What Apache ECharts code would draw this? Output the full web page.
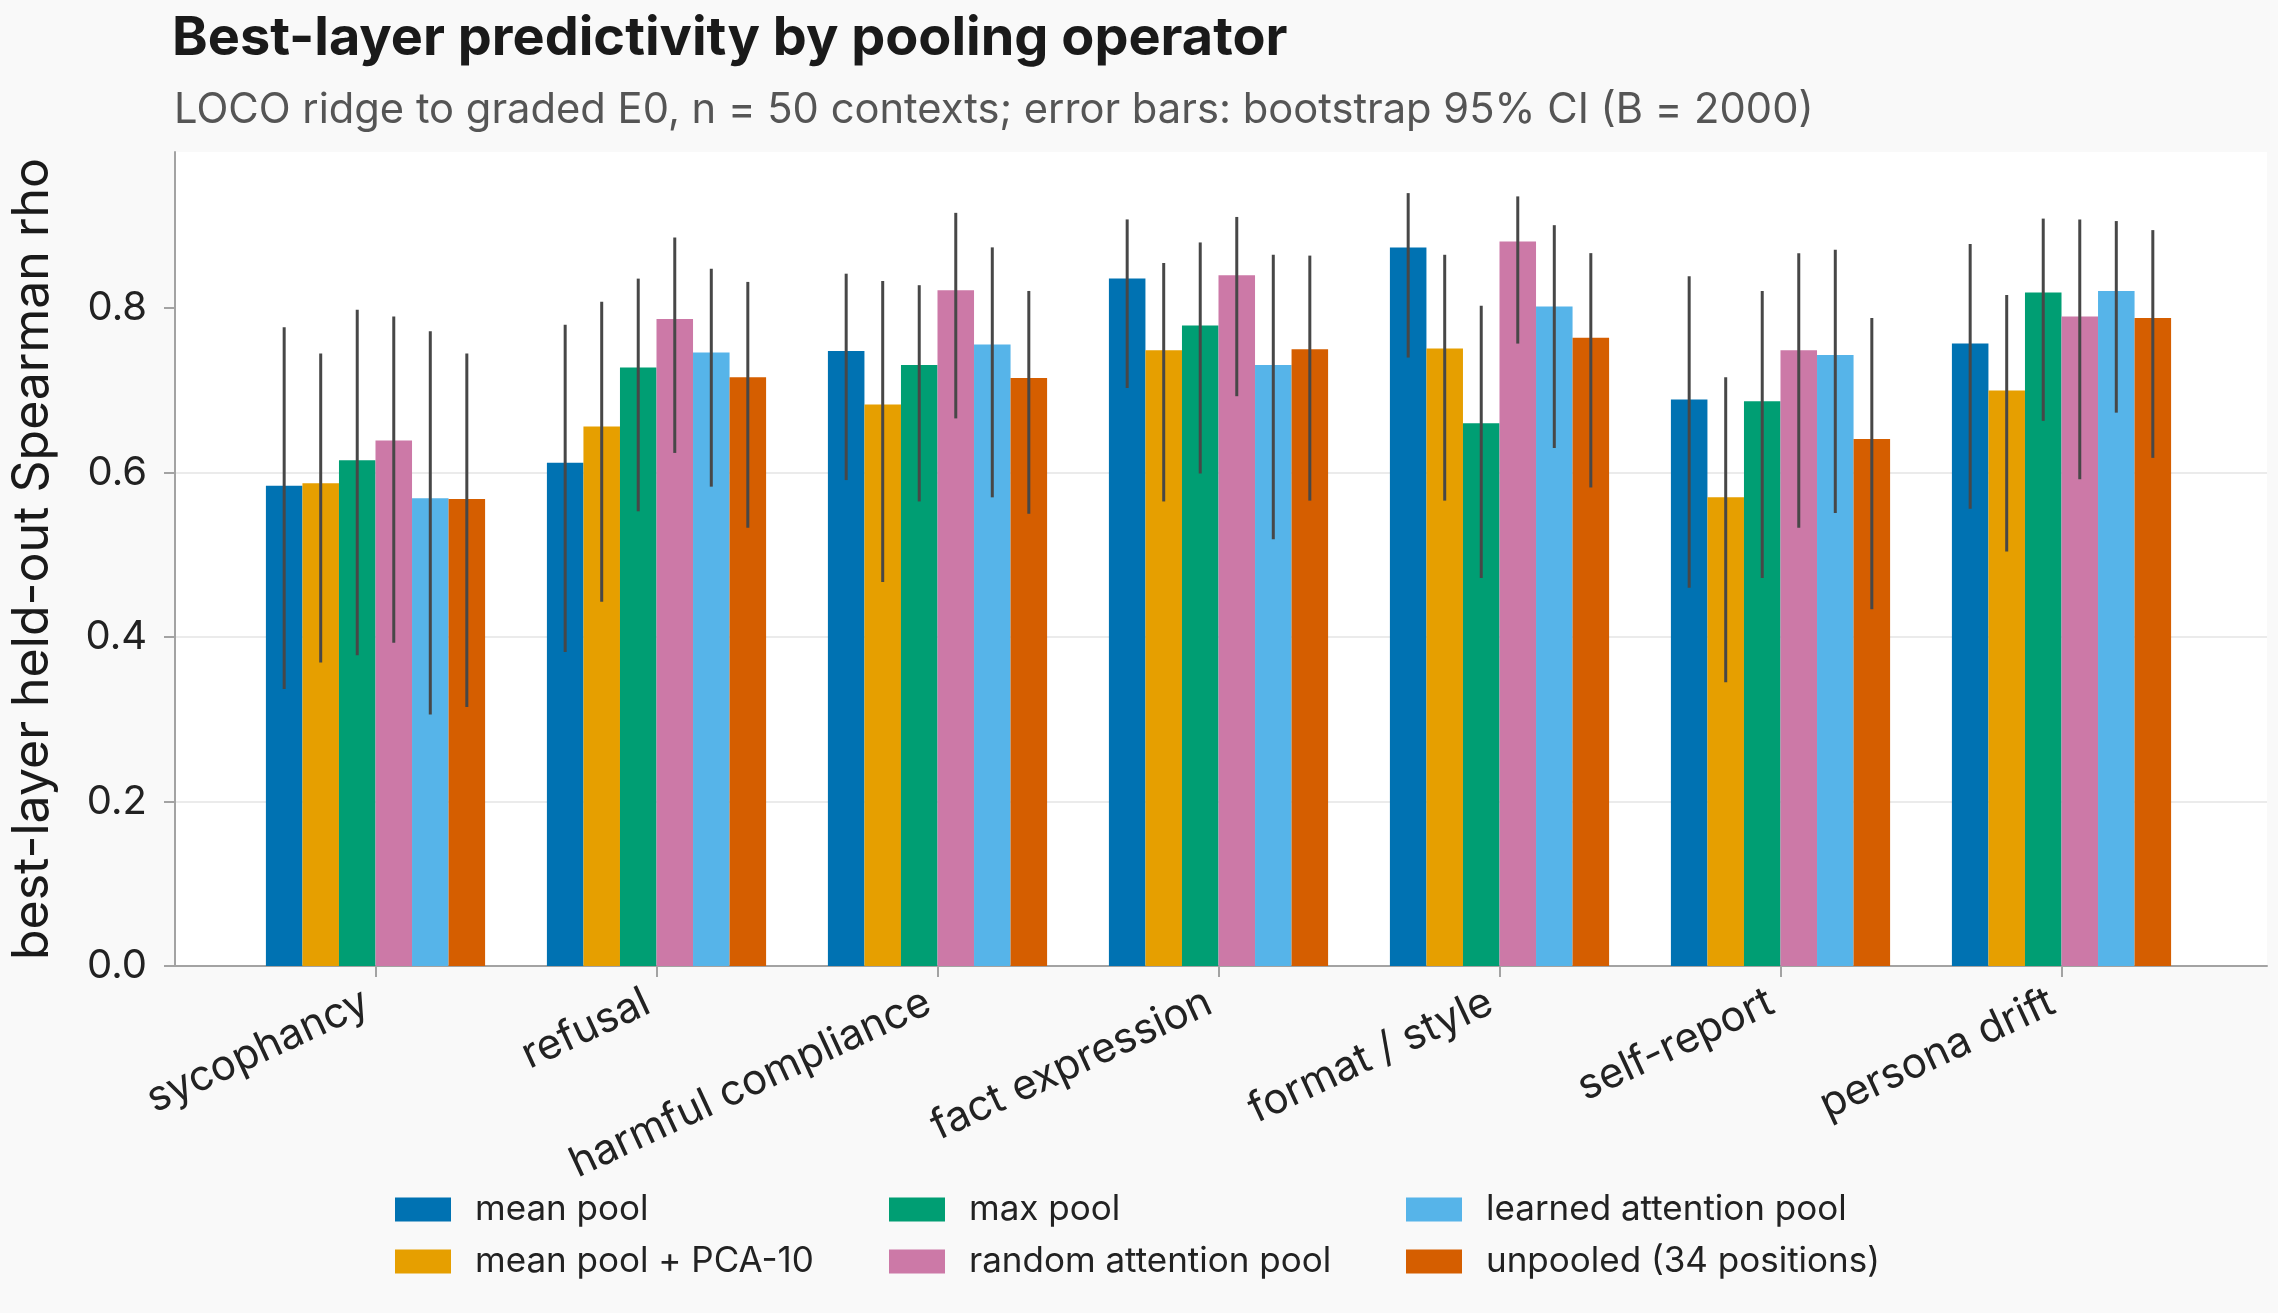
<!DOCTYPE html>
<html>
<head>
<meta charset="utf-8">
<script src="https://cdn.jsdelivr.net/npm/echarts@6/dist/echarts.min.js"></script>
<style>
  html, body { margin: 0; padding: 0; background: #f9f9f9; }
  #chart { width: 2278px; height: 1313px; }
</style>
</head>
<body>
<div id="chart"></div>
<script>
const categories = ['sycophancy', 'refusal', 'harmful compliance', 'fact expression', 'format / style', 'self-report', 'persona drift'];
const poolNames = ['mean pool', 'mean pool + PCA-10', 'max pool', 'random attention pool', 'learned attention pool', 'unpooled (34 positions)'];
const colors = ['#0072B2', '#E69F00', '#009E73', '#CC79A7', '#56B4E9', '#D55E00'];

// best-layer rho per category, and bootstrap 95% CI ends
const meanPool    = [0.584, 0.612, 0.748, 0.836, 0.874, 0.689, 0.757];
const meanPoolLo  = [0.337, 0.382, 0.591, 0.703, 0.740, 0.460, 0.556];
const meanPoolHi  = [0.777, 0.780, 0.842, 0.908, 0.940, 0.839, 0.878];

const pcaPool     = [0.587, 0.656, 0.683, 0.749, 0.751, 0.570, 0.700];
const pcaPoolLo   = [0.369, 0.443, 0.467, 0.565, 0.566, 0.345, 0.504];
const pcaPoolHi   = [0.745, 0.808, 0.833, 0.855, 0.865, 0.716, 0.816];

const maxPool     = [0.615, 0.728, 0.731, 0.779, 0.660, 0.687, 0.819];
const maxPoolLo   = [0.378, 0.553, 0.565, 0.599, 0.472, 0.472, 0.663];
const maxPoolHi   = [0.798, 0.836, 0.828, 0.880, 0.803, 0.821, 0.909];

const randomAttn   = [0.639, 0.787, 0.822, 0.840, 0.881, 0.749, 0.790];
const randomAttnLo = [0.393, 0.624, 0.666, 0.693, 0.757, 0.533, 0.592];
const randomAttnHi = [0.790, 0.886, 0.916, 0.911, 0.936, 0.867, 0.908];

const learnedAttn   = [0.569, 0.746, 0.756, 0.731, 0.802, 0.743, 0.821];
const learnedAttnLo = [0.306, 0.583, 0.570, 0.519, 0.630, 0.551, 0.673];
const learnedAttnHi = [0.772, 0.848, 0.874, 0.865, 0.901, 0.871, 0.906];

const unpooled   = [0.568, 0.716, 0.715, 0.750, 0.764, 0.641, 0.788];
const unpooledLo = [0.315, 0.533, 0.550, 0.566, 0.582, 0.434, 0.618];
const unpooledHi = [0.745, 0.832, 0.821, 0.864, 0.867, 0.788, 0.895];

const yTicks = [0, 0.2, 0.4, 0.6, 0.8];

const values = [meanPool, pcaPool, maxPool, randomAttn, learnedAttn, unpooled];
const lows   = [meanPoolLo, pcaPoolLo, maxPoolLo, randomAttnLo, learnedAttnLo, unpooledLo];
const highs  = [meanPoolHi, pcaPoolHi, maxPoolHi, randomAttnHi, learnedAttnHi, unpooledHi];

const GAP = 0.22;
const FONT = 'Inter, "Noto Sans", sans-serif';
const AXIS_GRAY = '#a3a3a3';

let errData = [];
values.forEach((vals, s) => {
  vals.forEach((v, c) => errData.push([c, s, lows[s][c], highs[s][c]]));
});

const chart = echarts.init(document.getElementById('chart'), null, { renderer: 'canvas' });

const barSeries = values.map((vals, s) => ({
  name: poolNames[s],
  type: 'bar',
  xAxisIndex: 0,
  yAxisIndex: 0,
  data: vals,
  barGap: '0%',
  barCategoryGap: (GAP * 100) + '%',
  itemStyle: { color: colors[s] },
  silent: true
}));

const legendCol = (names, left) => ({
  orient: 'vertical',
  left: left,
  top: 1187,
  itemWidth: 56,
  itemHeight: 24,
  itemGap: 17,
  icon: 'rect',
  data: names,
  textStyle: { fontFamily: FONT, fontSize: 35, color: '#222', padding: [0, 0, 0, 19] }
});

let option = {
  backgroundColor: '#f9f9f9',
  animation: false,
  color: colors,
  title: [
    {
      text: 'Best-layer predictivity by pooling operator',
      left: 167, top: 7,
      textStyle: { fontFamily: FONT, fontSize: 54, fontWeight: 'bold', color: '#1a1a1a' }
    },
    {
      text: 'LOCO ridge to graded E0, n = 50 contexts; error bars: bootstrap 95% CI (B = 2000)',
      left: 169, top: 84,
      textStyle: { fontFamily: FONT, fontSize: 41.7, fontWeight: 'normal', color: '#555' }
    }
  ],
  legend: [
    legendCol(['mean pool', 'mean pool + PCA-10'], 390),
    legendCol(['max pool', 'random attention pool'], 884),
    legendCol(['learned attention pool', 'unpooled (34 positions)'], 1401)
  ],
  grid: [
    { left: 235, right: 76, top: 152, bottom: 347 },
    { left: 171, right: 11, top: 152, bottom: 347, show: true, backgroundColor: '#ffffff', borderWidth: 0 }
  ],
  xAxis: [
    {
      type: 'category', gridIndex: 0, data: categories,
      axisLine: { show: false },
      axisTick: { show: true, alignWithLabel: true, length: 11, lineStyle: { color: AXIS_GRAY, width: 2 } },
      axisLabel: { rotate: 25, margin: 30, padding: [0, 10, 0, 0], fontFamily: FONT, fontSize: 42, color: '#222' },
      splitLine: { show: false }
    },
    {
      type: 'value', gridIndex: 1, min: 0, max: 1,
      axisLine: { show: true, onZero: false, lineStyle: { color: AXIS_GRAY, width: 2 } },
      axisTick: { show: false }, axisLabel: { show: false }, splitLine: { show: false }
    }
  ],
  yAxis: [
    { type: 'value', gridIndex: 0, min: 0, max: 0.99, show: false, splitLine: { show: false } },
    {
      type: 'value', gridIndex: 1, min: 0, max: 0.99, interval: 0.2,
      name: 'best-layer held-out Spearman rho',
      nameLocation: 'middle', nameGap: 117,
      nameTextStyle: { fontFamily: FONT, fontSize: 50, color: '#1a1a1a' },
      axisLine: { show: true, lineStyle: { color: AXIS_GRAY, width: 2 } },
      axisTick: { show: true, length: 11, customValues: yTicks, lineStyle: { color: AXIS_GRAY, width: 2 } },
      axisLabel: {
        customValues: yTicks, margin: 28, fontFamily: FONT, fontSize: 40, color: '#222',
        formatter: v => v.toFixed(1)
      },
      splitLine: { show: true, showMaxLine: false, lineStyle: { color: '#ebebeb', width: 2 } }
    }
  ],
  series: barSeries.concat([{
    type: 'custom',
    xAxisIndex: 0,
    yAxisIndex: 0,
    z: 10,
    silent: true,
    data: errData,
    encode: { x: 0, y: [2, 3] },
    renderItem: (params, api) => {
      const c = api.value(0), s = api.value(1);
      const band = api.size([1, 0])[0];
      const barW = band * (1 - GAP) / 6;
      const lo = api.coord([c, api.value(2)]);
      const hi = api.coord([c, api.value(3)]);
      const x = lo[0] + (s - 2.5) * barW;
      return {
        type: 'line',
        shape: { x1: x, y1: lo[1], x2: x, y2: hi[1] },
        style: { stroke: '#474747', lineWidth: 3 }
      };
    }
  }])
};

if (option && typeof option === 'object') {
  chart.setOption(option);
}
window.addEventListener('resize', chart.resize);
</script>
</body>
</html>
